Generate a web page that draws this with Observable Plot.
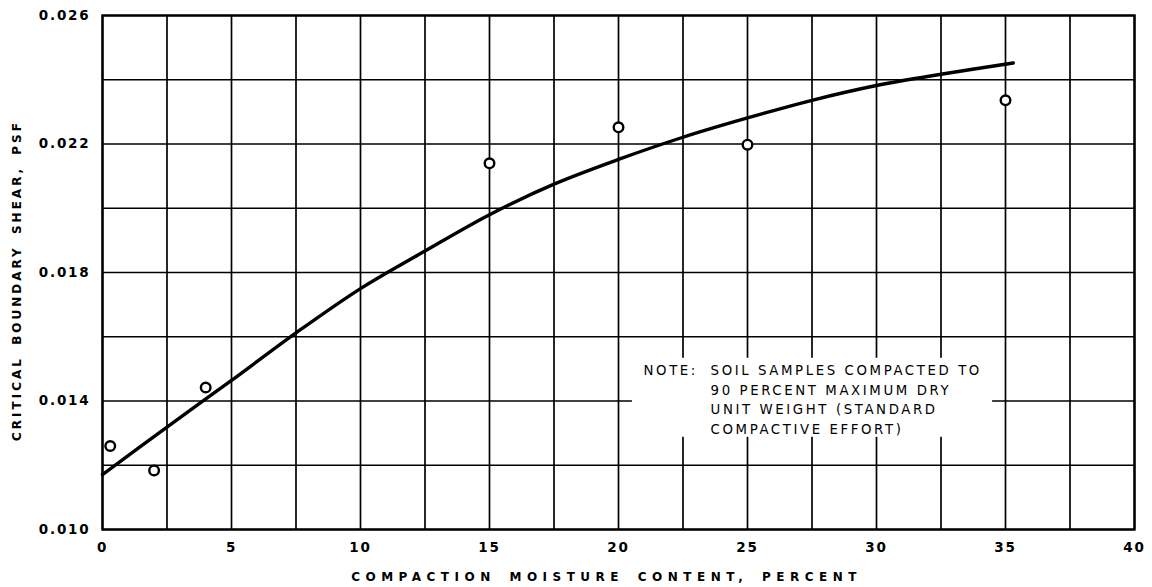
<!DOCTYPE html>
<html>
<head>
<meta charset="utf-8">
<script src="https://cdn.jsdelivr.net/npm/d3@7"></script>
<script src="https://cdn.jsdelivr.net/npm/@observablehq/plot@0.6"></script>
<style>
  html, body { margin: 0; padding: 0; background: #fff; }
  #chart svg { display: block; }
  #chart g[aria-label="x-axis tick label"] text,
  #chart g[aria-label="y-axis tick label"] text { font-size: 13.5px; font-weight: bold; letter-spacing: 1.8px; }
  #chart g[aria-label="text"] text { font-size: 13.3px; letter-spacing: 2.6px; }
</style>
</head>
<body>
<div id="chart"></div>
<script>
// Measured samples: compaction moisture content (%) vs critical boundary shear (psf)
const moisture = [0.3, 2, 4, 15, 20, 25, 35];
const shear = [0.0126, 0.01184, 0.01442, 0.0214, 0.02252, 0.02198, 0.02336];

// Hand-fitted trend curve
const curveMoisture = [0, 2.5, 5, 7.5, 10, 12.5, 15, 17.5, 20, 22.5, 25, 27.5, 30, 32.5, 35.3];
const curveShear = [0.01171, 0.01319, 0.01464, 0.01612, 0.0175, 0.01867, 0.0198, 0.02075, 0.02152, 0.02221, 0.02281, 0.02336, 0.02382, 0.02417, 0.02452];

// Axis ticks and grid
const xTicks = [0, 5, 10, 15, 20, 25, 30, 35, 40];
const yTicks = [0.010, 0.014, 0.018, 0.022, 0.026];
const xGrid = [0, 2.5, 5, 7.5, 10, 12.5, 15, 17.5, 20, 22.5, 25, 27.5, 30, 32.5, 35, 37.5, 40];
const yGrid = [0.010, 0.012, 0.014, 0.016, 0.018, 0.020, 0.022, 0.024, 0.026];

const xLabel = "COMPACTION MOISTURE CONTENT, PERCENT";
const yLabel = "CRITICAL BOUNDARY SHEAR, PSF";
const noteHead = "NOTE:";
const noteLines = [
  "SOIL SAMPLES COMPACTED TO",
  "90 PERCENT MAXIMUM DRY",
  "UNIT WEIGHT (STANDARD",
  "COMPACTIVE EFFORT)"
];

const samples = moisture.map((m, i) => ({moisture: m, shear: shear[i]}));
const trend = curveMoisture.map((m, i) => ({moisture: m, shear: curveShear[i]}));
// the head sits on the first line of the note block
const headBlock = [noteHead, ...noteLines.slice(1).map(() => " ")].join("\n");

const chart = Plot.plot({
  width: 1152,
  height: 587,
  marginLeft: 102,
  marginRight: 18,
  marginTop: 15,
  marginBottom: 58,
  x: {domain: [0, 40]},
  y: {domain: [0.010, 0.026]},
  style: {fontFamily: "'DejaVu Sans', sans-serif", fontSize: "13px", color: "#000", background: "#fff"},
  marks: [
    Plot.gridX({ticks: xGrid, stroke: "#000", strokeOpacity: 1, strokeWidth: 1.7}),
    Plot.gridY({ticks: yGrid, stroke: "#000", strokeOpacity: 1, strokeWidth: 1.7}),
    // blank panel behind the note
    Plot.rect([0], {x1: 20.54, x2: 34.5, y1: 0.01287, y2: 0.01533, fill: "#fff"}),
    Plot.text([headBlock], {x: 20.97, y: 0.01524, textAnchor: "start", lineAnchor: "top", lineHeight: 1.47, fill: "#000"}),
    Plot.text([noteLines.join("\n")], {x: 23.57, y: 0.01524, textAnchor: "start", lineAnchor: "top", lineHeight: 1.47, fill: "#000"}),
    Plot.line(trend, {x: "moisture", y: "shear", curve: "catmull-rom", stroke: "#000", strokeWidth: 3.4}),
    Plot.dot(samples, {x: "moisture", y: "shear", r: 4.8, stroke: "#000", strokeWidth: 2.4, fill: "#fff"}),
    Plot.frame({stroke: "#000", strokeWidth: 2.4}),
    Plot.axisX({ticks: xTicks, tickSize: 0, tickPadding: 13, tickFormat: d => String(d), label: null}),
    Plot.axisY({ticks: yTicks, tickSize: 0, tickPadding: 12, tickFormat: d3.format(".3f"), label: null}),
    // axis titles
    Plot.text([xLabel], {frameAnchor: "bottom", textAnchor: "middle", lineAnchor: "middle", dx: -12, dy: 48, fill: "#000"}),
    Plot.text([yLabel], {frameAnchor: "left", textAnchor: "middle", lineAnchor: "middle", rotate: -90, dx: -85, dy: 8, fill: "#000"})
  ]
});

// letter spacing of the hand-lettered axis titles
d3.select(chart).selectAll("g[aria-label='text'] text").each(function () {
  const t = this.textContent;
  if (t === xLabel) d3.select(this).style("font-size", "12px").style("font-weight", "bold").style("letter-spacing", "5.5px").style("word-spacing", "4px");
  if (t === yLabel) d3.select(this).style("font-size", "12px").style("font-weight", "bold").style("letter-spacing", "3px").style("word-spacing", "4px");
});

document.getElementById("chart").appendChild(chart);
</script>
</body>
</html>
